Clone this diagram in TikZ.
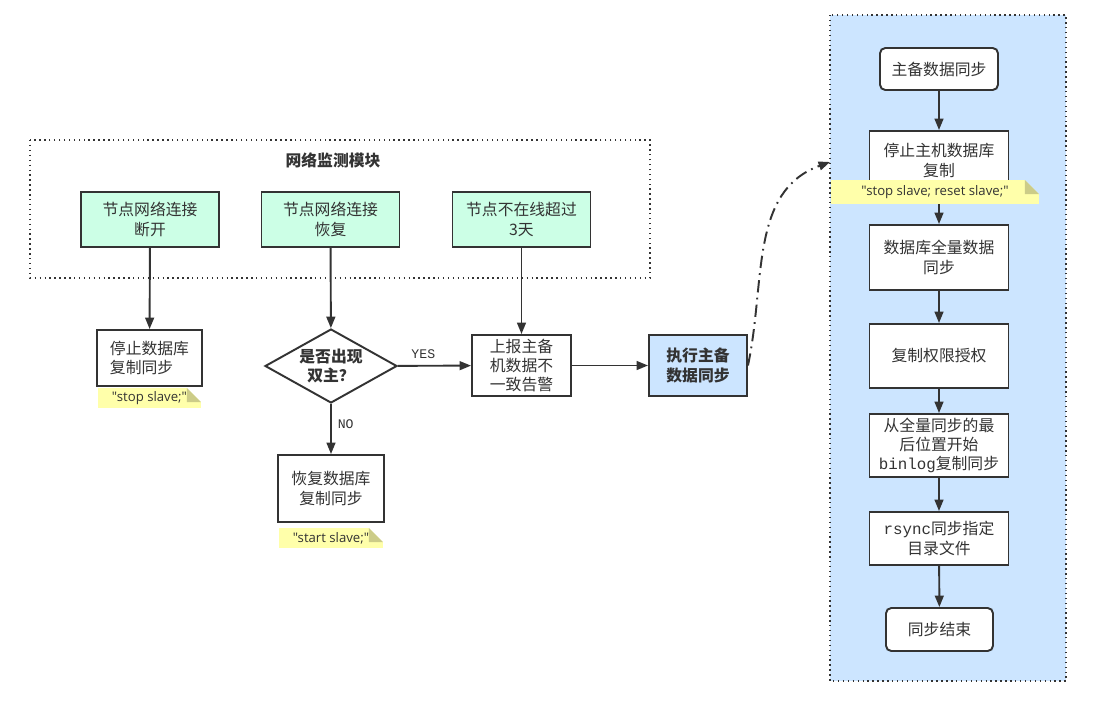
\documentclass[tikz,border=0pt]{standalone}
\usepackage{fontspec}
\setmainfont{Noto Sans CJK SC}
\setmonofont{Liberation Mono}
\newfontfamily\notefont{Open Sans}
\usetikzlibrary{arrows.meta,shapes.geometric,positioning}

\definecolor{linec}{RGB}{51,51,51}
\definecolor{mintc}{RGB}{204,255,230}
\definecolor{bluec}{RGB}{204,229,255}
\definecolor{notec}{RGB}{255,255,170}
\definecolor{foldc}{RGB}{204,204,136}

\begin{document}
\begin{tikzpicture}[x=0.02cm,y=-0.02cm,font=\fontsize{9}{11}\selectfont,
  box/.style={draw=linec,line width=1.1pt,fill=white,align=center,inner sep=1pt,text=linec},
  watch/.style={box,fill=mintc,minimum width=2.76cm,minimum height=1.1cm},
  step box/.style={box,minimum width=2.78cm},
  link/.style={draw=linec,line width=1.1pt,-{Triangle[length=6.5pt,width=5pt]}},
  frame/.style={draw=linec,line width=0.8pt,dotted},
  tag/.style={font=\ttfamily\fontsize{7.5}{9}\selectfont,text=linec},
  note/.style={fill=notec,inner sep=0pt,minimum height=0.4cm,text=linec,
    font=\notefont\fontsize{7.5}{9}\selectfont,
    path picture={
      \fill[#1] ([xshift=-8pt]path picture bounding box.north east) -| ([yshift=-8pt]path picture bounding box.north east) -- cycle;
      \fill[foldc] ([xshift=-8pt]path picture bounding box.north east) |- ([yshift=-8pt]path picture bounding box.north east) -- cycle;
    }}]
  \fill[white] (0,0) rectangle (1106,708);
  \useasboundingbox (0,0) rectangle (1106,708);

  % monitoring module
  \draw[frame] (30,140) rectangle (650,278);
  \node[font=\bfseries\fontsize{9}{11}\selectfont,text=linec] (title) at (333,160) {网络监测模块};
  \node[watch] (down) at (150,219.5) {节点网络连接\\断开};
  \node[watch] (up) at (330.5,219.5) {节点网络连接\\恢复};
  \node[watch] (offline) at (521.5,219.5) {节点不在线超过\\3天};

  % left branch
  \node[box,minimum width=2.1cm,minimum height=1.12cm,align=left] (stop) at (149.5,358) {停止数据库\\复制同步};
  \node[note=white,minimum width=2.06cm] (stopnote) at (149.5,398) {"stop slave;"\hspace{7pt}};
  \node[box,diamond,aspect=1.78,inner sep=0pt,minimum width=2.64cm,minimum height=1.48cm,
    font=\bfseries\fontsize{9}{11}\selectfont] (dual) at (331,366) {是否出现\\双主？};
  \node[box,minimum width=1.98cm,minimum height=1.22cm] (report) at (521.5,365.5) {上报主备\\机数据不\\一致告警};
  \node[box,fill=bluec,minimum width=1.96cm,minimum height=1.22cm,
    font=\bfseries\fontsize{9}{11}\selectfont] (exec) at (698,365.5) {执行主备\\数据同步};
  \node[box,minimum width=2.12cm,minimum height=1.34cm] (resume) at (331,488.5) {恢复数据库\\复制同步};
  \node[note=white,minimum width=2.08cm] (startnote) at (331,538) {"start slave;"\hspace{7pt}};

  \draw[link] (down) -- (stop);
  \draw[link] (up) -- (dual);
  \draw[link] (offline) -- (report);
  \draw[link] (dual) -- node[tag,above,pos=0.35] {YES} (report);
  \draw[link] (dual) -- node[tag,right,pos=0.4] {NO} (resume);
  \draw[link] (report) -- (exec);

  % sync procedure
  \fill[bluec] (830,15) rectangle (1066,681);
  \draw[frame] (830,15) rectangle (1066,681);
  \coordinate (entry) at (830,162);
  \draw[link,dash pattern=on 7pt off 3pt on 1pt off 3pt] (exec.east) to[out=78,in=200] (entry);

  \node[box,rounded corners=3pt,minimum width=2.36cm,minimum height=0.84cm] (s1) at (939,69) {主备数据同步};
  \node[step box,minimum height=1.18cm] (s2) at (939,160.5) {停止主机数据库\\复制};
  \node[step box,minimum height=1.3cm] (s3) at (939,257.5) {数据库全量数据\\同步};
  \node[step box,minimum height=1.28cm] (s4) at (939,356) {复制权限授权};
  \node[step box,minimum height=1.26cm] (s5) at (939,445.5) {从全量同步的最\\后位置开始\\\texttt{binlog}复制同步};
  \node[step box,minimum height=1.06cm] (s6) at (939,538.5) {\texttt{rsync}同步指定\\目录文件};
  \node[box,rounded corners=3pt,minimum width=2.14cm,minimum height=0.86cm] (s7) at (939.5,629.5) {同步结束};

  \draw[link] (s1) -- (s2);
  \draw[link] (s2) -- (s3);
  \draw[link] (s3) -- (s4);
  \draw[link] (s4) -- (s5);
  \draw[link] (s5) -- (s6);
  \draw[link] (s6) -- (s7);
  \node[note=bluec,minimum width=4.16cm,minimum height=0.48cm] (resetnote) at (935,192) {"stop slave; reset slave;"\hspace{7pt}};
\end{tikzpicture}
\end{document}
